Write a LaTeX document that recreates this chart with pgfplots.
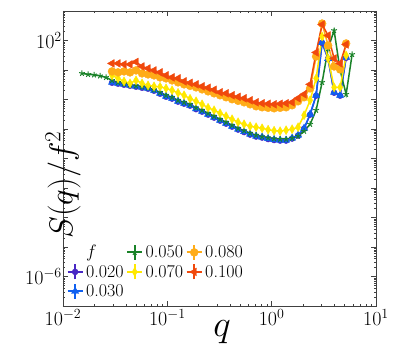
\RequirePackage{fix-cm}
\documentclass[border=0pt]{standalone}
\usepackage{pgfplots}
\usepackage{pgfplotstable}
\pgfplotsset{compat=1.18}
\usetikzlibrary{plotmarks}

\definecolor{c20}{RGB}{72,40,196}
\definecolor{c30}{RGB}{16,96,240}
\definecolor{c50}{RGB}{25,130,40}
\definecolor{c70}{RGB}{255,232,0}
\definecolor{c80}{RGB}{255,172,24}
\definecolor{c100}{RGB}{240,72,12}

\pgfplotsset{
  s20/.style={color=c20, line width=1.5pt, mark=*, mark size=3pt, mark options={line width=0.4pt}},
  s30/.style={color=c30, line width=1.5pt, mark=triangle*, mark size=4.2pt, mark options={line width=0.4pt}},
  s50/.style={color=c50, line width=1.5pt, mark=star, mark size=3pt, mark options={line width=1pt}},
  s70/.style={color=c70, line width=1.5pt, mark=diamond*, mark size=4.5pt, mark options={line width=0.4pt, xscale=0.75}},
  s80/.style={color=c80, line width=1.5pt, mark=*, mark size=4pt, mark options={line width=0.4pt}},
  s100/.style={color=c100, line width=1.5pt, mark=triangle*, mark size=4.5pt, mark options={line width=0.4pt, rotate=90}},
}

% S(q)/f^2 for each f
\pgfplotstableread{
q S
0.02951 3.70
0.03369 3.43
0.03847 3.17
0.04391 2.93
0.05013 2.71
0.05723 2.50
0.06534 2.32
0.07459 1.99
0.08516 1.57
0.09723 1.24
0.1110 1.07
0.1267 0.844
0.1447 0.722
0.1652 0.618
0.1886 0.470
0.2153 0.387
0.2458 0.307
0.2806 0.243
0.3203 0.192
0.3657 0.152
0.4175 0.120
0.4767 0.0955
0.5442 0.0787
0.6213 0.0647
0.7093 0.0554
0.8097 0.0512
0.9244 0.0456
1.055 0.0422
1.205 0.0405
1.375 0.0405
1.570 0.0474
1.792 0.0598
2.046 0.103
2.336 0.307
2.667 1.35
3.045 83
3.476 23.9
3.968 1.70
4.530 1.35
5.172 25.9
}\tabA
\pgfplotstableread{
q S
0.02951 3.81
0.03369 3.53
0.03847 3.26
0.04391 3.02
0.05013 2.79
0.05723 2.58
0.06534 2.39
0.07459 2.05
0.08516 1.62
0.09723 1.28
0.1110 1.10
0.1267 0.870
0.1447 0.744
0.1652 0.637
0.1886 0.485
0.2153 0.399
0.2458 0.316
0.2806 0.250
0.3203 0.198
0.3657 0.157
0.4175 0.124
0.4767 0.0985
0.5442 0.0811
0.6213 0.0667
0.7093 0.0571
0.8097 0.0528
0.9244 0.0470
1.055 0.0435
1.205 0.0418
1.375 0.0418
1.570 0.0489
1.792 0.0617
2.046 0.106
2.336 0.316
2.667 1.39
3.045 85.6
3.476 24.6
3.968 1.75
4.530 1.39
5.172 26.7
}\tabB
\pgfplotstableread{
q S
0.01521 7.68
0.01738 7.10
0.01984 6.83
0.02265 6.32
0.02586 5.62
0.02951 4.45
0.03369 3.81
0.03847 3.39
0.04391 3.14
0.05013 2.90
0.05723 2.69
0.06534 2.49
0.07459 2.13
0.08516 1.75
0.09723 1.39
0.1110 1.19
0.1267 0.940
0.1447 0.804
0.1652 0.688
0.1886 0.524
0.2153 0.432
0.2458 0.342
0.2806 0.271
0.3203 0.214
0.3657 0.170
0.4175 0.134
0.4767 0.106
0.5442 0.0876
0.6213 0.0721
0.7093 0.0617
0.8097 0.0549
0.9244 0.0508
1.055 0.0470
1.205 0.0452
1.375 0.0452
1.570 0.0489
1.792 0.0571
2.046 0.0843
2.336 0.145
2.667 0.432
3.045 3.81
3.476 53.7
3.968 217.7
4.530 9.69
5.172 1.50
5.904 33.7
}\tabC
\pgfplotstableread{
q S
0.02951 6.57
0.03369 5.20
0.03847 4.12
0.04391 3.53
0.05013 4.45
0.05723 3.53
0.06534 3.02
0.07459 2.79
0.08516 2.69
0.09723 2.39
0.1110 2.05
0.1267 1.68
0.1447 1.39
0.1652 1.06
0.1886 0.870
0.2153 0.688
0.2458 0.524
0.2806 0.432
0.3203 0.342
0.3657 0.271
0.4175 0.214
0.4767 0.170
0.5442 0.145
0.6213 0.124
0.7093 0.115
0.8097 0.106
0.9244 0.0947
1.055 0.0876
1.205 0.0843
1.375 0.0911
1.570 0.0985
1.792 0.115
2.046 0.293
2.336 0.940
2.667 5.20
3.045 136.5
3.476 24.6
3.968 2.58
4.530 2.58
5.172 31.1
}\tabD
\pgfplotstableread{
q S
0.02951 8.97
0.03369 8.30
0.03847 8.97
0.04391 8.30
0.05013 9.69
0.05723 7.68
0.06534 7.10
0.07459 6.57
0.08516 5.62
0.09723 5.20
0.1110 4.45
0.1267 3.81
0.1447 3.26
0.1652 2.90
0.1886 2.58
0.2153 2.21
0.2458 1.89
0.2806 1.62
0.3203 1.39
0.3657 1.19
0.4175 1.02
0.4767 0.904
0.5442 0.804
0.6213 0.688
0.7093 0.589
0.8097 0.545
0.9244 0.524
1.055 0.504
1.205 0.524
1.375 0.545
1.570 0.637
1.792 0.870
2.046 1.19
2.336 2.39
2.667 28.8
3.045 375
3.476 67.8
3.968 13.2
4.530 10.5
5.172 79.2
}\tabE
\pgfplotstableread{
q S
0.02951 16.7
0.03369 16.7
0.03847 15.5
0.04391 15.5
0.05013 18.8
0.05723 13.2
0.06534 11.3
0.07459 9.69
0.08516 8.30
0.09723 6.57
0.1110 5.62
0.1267 5.20
0.1447 4.12
0.1652 3.67
0.1886 3.26
0.2153 2.79
0.2458 2.49
0.2806 2.13
0.3203 1.75
0.3657 1.62
0.4175 1.39
0.4767 1.23
0.5442 1.10
0.6213 0.940
0.7093 0.804
0.8097 0.744
0.9244 0.716
1.055 0.688
1.205 0.716
1.375 0.744
1.570 0.804
1.792 1.10
2.046 1.50
2.336 3.26
2.667 39.3
3.045 347
3.476 148
3.968 24.6
4.530 16.7
5.172 73.3
}\tabF

\begin{document}
\begin{tikzpicture}
\begin{axis}[
  scale only axis, width=313pt, height=295pt,
  xmode=log, ymode=log,
  xmin=1e-2, xmax=10, ymin=1e-7, ymax=1e3,
  xtick={0.01,0.1,1,10},
  ytick={1e-7,1e-6,1e-5,1e-4,1e-3,1e-2,1e-1,1,1e1,1e2,1e3},
  yticklabels={,$10^{-6}$,,,,,,,,$10^{2}$,},
  tick align=inside,
  major tick length=5pt, minor tick length=2.5pt,
  axis line style={black!75, line width=0.6pt},
  every tick/.style={black!75, line width=0.5pt},
  tick label style={font=\fontsize{20}{24}\selectfont},
  yticklabel style={inner xsep=1pt},
  xlabel={$q$}, ylabel={$S(q)/f^2$},
  xlabel style={at={(axis description cs:0.508,0)}, anchor=base, yshift=-30pt, font=\fontsize{37}{44}\selectfont},
  ylabel style={at={(axis description cs:0,0.536)}, anchor=center, xshift=-37pt, font=\fontsize{33}{40}\selectfont},
  legend columns=3,
  legend cell align=left,
  legend style={at={(axis description cs:0.011,0.02)}, anchor=south west, draw=none, fill=none,
    inner sep=0pt, font=\fontsize{18}{21}\selectfont,
    nodes={inner sep=1.5pt}, column sep=1pt, row sep=2.5pt},
  legend image code/.code={%
    \draw[#1, line width=2pt] (-7.5pt,0pt) -- (7.5pt,0pt) (0pt,-7.5pt) -- (0pt,7.5pt);
    \draw[#1] plot coordinates {(0pt,0pt)};
  },
]
\addplot[s20, forget plot] table {\tabA};
\addplot[s30, forget plot] table {\tabB};
\addplot[s50, forget plot] table {\tabC};
\addplot[s70, forget plot] table {\tabD};
\addplot[s80, forget plot] table {\tabE};
\addplot[s100, forget plot] table {\tabF};

% legend filled row by row: f, 0.050, 0.080 / 0.020, 0.070, 0.100 / 0.030
\addlegendimage{empty legend}\addlegendentry{$f$}
\addlegendimage{s50}\addlegendentry{0.050}
\addlegendimage{s80}\addlegendentry{0.080}
\addlegendimage{s20}\addlegendentry{0.020}
\addlegendimage{s70}\addlegendentry{0.070}
\addlegendimage{s100}\addlegendentry{0.100}
\addlegendimage{s30}\addlegendentry{0.030}
\end{axis}
\path (current axis.south west) ++(-63pt,-46pt) rectangle ++(395pt,352pt);
\end{tikzpicture}
\end{document}
